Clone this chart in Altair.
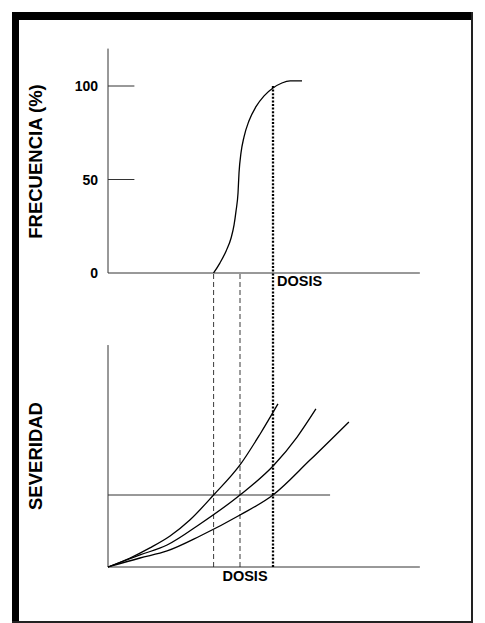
import altair as alt
import pandas as pd

# ------------------------------------------------------------------ data
# Upper panel: frequency (%) of responders vs dose
freq_dose = [3.2, 3.39, 3.58, 3.73, 3.82, 3.88, 3.94, 3.97, 4.03, 4.12, 4.27, 4.48, 4.73, 5.0, 5.27, 5.52, 5.88]
freq_pct = [0, 5.3, 11.8, 18.7, 25.7, 33.2, 42.8, 53.5, 64.2, 72.7, 81.3, 88.8, 94.7, 98.9, 101.6, 102.7, 102.7]

# Lower panel: severity vs dose for three individuals
sev1_dose = [0, 0.67, 1.27, 1.88, 2.48, 3.2, 4.0, 4.61, 5.15]
sev1_val = [0, 0.5, 1.06, 1.72, 2.61, 4.0, 5.67, 7.39, 9.06]
sev2_dose = [0, 0.97, 1.79, 2.79, 4.0, 5.03, 5.73, 6.3]
sev2_val = [0, 0.67, 1.22, 2.39, 4.0, 5.67, 7.22, 8.78]
sev3_dose = [0, 0.97, 1.79, 2.79, 4.0, 5.0, 6.12, 7.3]
sev3_val = [0, 0.5, 0.89, 1.72, 2.89, 4.0, 5.94, 8.06]

severity_threshold = 4.0
threshold_dose_end = 6.73

dashed_doses = [3.2, 4.0]          # doses where the first two individuals reach the threshold
dotted_dose = 5.0
dotted_freq_top = 100

freq_ticks = [0, 50, 100]
freq_tick_labels = ["0", "50", "100"]
freq_inner_ticks = [50, 100]
inner_tick_len = 0.8

freq_axis_top = 120
sev_axis_top = 12.33
dose_axis_end = 9.45

# ------------------------------------------------------------------ layout / scales
W, H = 452, 601
DOSE_PX, DOSE0 = 33.0, 89.0       # px per dose unit, px position of dose 0
FREQ_PX, FREQ0 = 1.87, 253.0      # px per %, px position of 0 %
SEV_PX, SEV0 = 18.0, 547.0        # px per severity unit, px position of 0
DOSE_DOMAIN = [-DOSE0 / DOSE_PX, (W - DOSE0) / DOSE_PX]
FREQ_DOMAIN = [(FREQ0 - H) / FREQ_PX, FREQ0 / FREQ_PX]
SEV_DOMAIN = [(SEV0 - H) / SEV_PX, SEV0 / SEV_PX]
SEV_AT_FREQ_AXIS = (SEV0 - FREQ0) / SEV_PX   # severity level of the upper dose axis

FONT = "Liberation Sans"
AXIS_COLOR = "#333333"


def X(field):
    return alt.X(field, type="quantitative", axis=None,
                 scale=alt.Scale(domain=DOSE_DOMAIN, nice=False, zero=False))


def YF(field):
    return alt.Y(field, type="quantitative", axis=None,
                 scale=alt.Scale(domain=FREQ_DOMAIN, nice=False, zero=False))


def YS(field):
    return alt.Y(field, type="quantitative", axis=None,
                 scale=alt.Scale(domain=SEV_DOMAIN, nice=False, zero=False))


# ------------------------------------------------------------------ tables
freq_df = pd.DataFrame({"dose": freq_dose, "freq": freq_pct})
sev_df = pd.concat([
    pd.DataFrame({"dose": sev1_dose, "sev": sev1_val, "ind": "A"}),
    pd.DataFrame({"dose": sev2_dose, "sev": sev2_val, "ind": "B"}),
    pd.DataFrame({"dose": sev3_dose, "sev": sev3_val, "ind": "C"}),
])
freq_vaxis = pd.DataFrame({"x": [0], "y": [0], "y2": [freq_axis_top]})
freq_haxis = pd.DataFrame({"x": [0], "x2": [dose_axis_end], "y": [0]})
sev_vaxis = pd.DataFrame({"x": [0], "y": [0], "y2": [sev_axis_top]})
sev_haxis = pd.DataFrame({"x": [0], "x2": [dose_axis_end], "y": [0]})
inner_ticks = pd.DataFrame({"x": [0] * len(freq_inner_ticks),
                            "x2": [inner_tick_len] * len(freq_inner_ticks),
                            "y": freq_inner_ticks})
tick_labels = pd.DataFrame({"x": [0] * len(freq_ticks), "y": freq_ticks, "t": freq_tick_labels})
thr_df = pd.DataFrame({"x": [0], "x2": [threshold_dose_end], "y": [severity_threshold]})
dashed_df = pd.DataFrame({"x": dashed_doses, "y": [0] * len(dashed_doses),
                          "y2": [SEV_AT_FREQ_AXIS] * len(dashed_doses)})
dotted_top = pd.DataFrame({"x": [dotted_dose], "y": [dotted_freq_top], "y2": [0]})
dotted_bot = pd.DataFrame({"x": [dotted_dose], "y": [0], "y2": [SEV_AT_FREQ_AXIS]})
dosis_top = pd.DataFrame({"x": [dotted_dose], "y": [0], "t": ["DOSIS"]})
dosis_bot = pd.DataFrame({"x": [dashed_doses[1]], "y": [0], "t": ["DOSIS"]})

# ------------------------------------------------------------------ layers
layers = []

# upper panel
layers.append(alt.Chart(freq_vaxis).mark_rule(color=AXIS_COLOR, strokeWidth=1)
              .encode(x=X("x"), y=YF("y"), y2="y2"))
layers.append(alt.Chart(freq_haxis).mark_rule(color=AXIS_COLOR, strokeWidth=1)
              .encode(x=X("x"), x2="x2", y=YF("y")))
layers.append(alt.Chart(inner_ticks).mark_rule(color=AXIS_COLOR, strokeWidth=1)
              .encode(x=X("x"), x2="x2", y=YF("y")))
layers.append(alt.Chart(tick_labels).mark_text(font=FONT, fontSize=14, fontWeight="bold",
                                               align="right", baseline="middle", dx=-10, dy=1,
                                               color="black")
              .encode(x=X("x"), y=YF("y"), text="t:N"))
layers.append(alt.Chart(freq_df).mark_line(color="black", strokeWidth=1.3, interpolate="monotone")
              .encode(x=X("dose"), y=YF("freq")))
layers.append(alt.Chart(dotted_top).mark_rule(color="black", strokeWidth=2.3, strokeDash=[2, 1.6])
              .encode(x=X("x"), y=YF("y"), y2="y2"))
layers.append(alt.Chart(dosis_top).mark_text(font=FONT, fontSize=14.5, fontWeight="bold",
                                             align="left", baseline="top", dx=4, dy=2, color="black")
              .encode(x=X("x"), y=YF("y"), text="t:N"))

# lower panel
layers.append(alt.Chart(sev_vaxis).mark_rule(color=AXIS_COLOR, strokeWidth=1)
              .encode(x=X("x"), y=YS("y"), y2="y2"))
layers.append(alt.Chart(sev_haxis).mark_rule(color=AXIS_COLOR, strokeWidth=1)
              .encode(x=X("x"), x2="x2", y=YS("y")))
layers.append(alt.Chart(thr_df).mark_rule(color=AXIS_COLOR, strokeWidth=1)
              .encode(x=X("x"), x2="x2", y=YS("y")))
layers.append(alt.Chart(dashed_df).mark_rule(color="#222222", strokeWidth=0.9, strokeDash=[5, 3])
              .encode(x=X("x"), y=YS("y"), y2="y2"))
layers.append(alt.Chart(dotted_bot).mark_rule(color="black", strokeWidth=2.3, strokeDash=[2, 1.6])
              .encode(x=X("x"), y=YS("y"), y2="y2"))
layers.append(alt.Chart(sev_df).mark_line(color="black", strokeWidth=1.3, interpolate="monotone")
              .encode(x=X("dose"), y=YS("sev"), detail="ind:N"))
layers.append(alt.Chart(dosis_bot).mark_text(font=FONT, fontSize=14.5, fontWeight="bold",
                                             align="center", baseline="top", dx=5, dy=3, color="black")
              .encode(x=X("x"), y=YS("y"), text="t:N"))

# axis titles (decorative text)
layers.append(alt.Chart(pd.DataFrame({"t": ["FRECUENCIA (%)"]}))
              .mark_text(font=FONT, fontSize=18.5, fontWeight="bold", angle=270,
                         align="center", baseline="middle", color="black")
              .encode(x=alt.value(16.5), y=alt.value(141.5), text="t:N"))
layers.append(alt.Chart(pd.DataFrame({"t": ["SEVERIDAD"]}))
              .mark_text(font=FONT, fontSize=18.5, fontWeight="bold", angle=270,
                         align="center", baseline="middle", color="black")
              .encode(x=alt.value(16.5), y=alt.value(436), text="t:N"))

# frame (thick top/left, thin right/bottom)
frame_src = pd.DataFrame({"k": [0]})
layers.append(alt.Chart(frame_src).mark_rule(color="black", strokeWidth=8)
              .encode(x=alt.value(-7), x2=alt.value(W + 2), y=alt.value(-4)))
layers.append(alt.Chart(frame_src).mark_rule(color="black", strokeWidth=7)
              .encode(x=alt.value(-3.5), y=alt.value(-8), y2=alt.value(H + 2)))
layers.append(alt.Chart(frame_src).mark_rule(color="#222222", strokeWidth=2)
              .encode(x=alt.value(W + 1), y=alt.value(-8), y2=alt.value(H + 2)))
layers.append(alt.Chart(frame_src).mark_rule(color="#222222", strokeWidth=2)
              .encode(x=alt.value(-7), x2=alt.value(W + 2), y=alt.value(H + 1)))

chart = (alt.layer(*layers)
         .resolve_scale(y="independent")
         .properties(width=W, height=H, background="white",
                     padding={"left": 0, "top": 0, "right": 0, "bottom": 0})
         .configure_view(stroke=None))

chart.save("out.html", embed_options={"renderer": "svg", "actions": False})
